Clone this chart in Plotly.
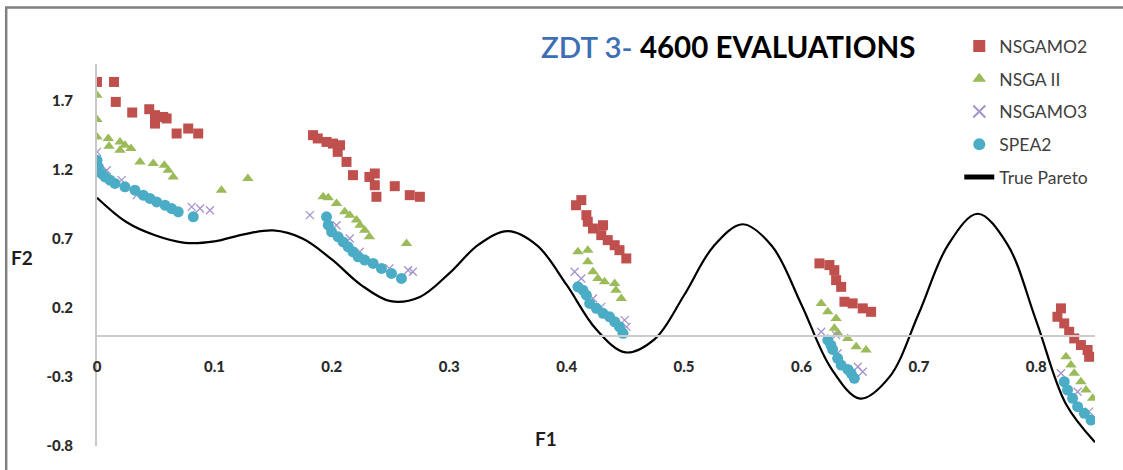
import plotly.graph_objects as go

# ---------------- data ----------------
nsgamo2_f1 = [0.0, 0.0145, 0.016, 0.030, 0.0445, 0.0494, 0.0564, 0.0593, 0.0494, 0.0678, 0.0777, 0.0862,
              0.184, 0.188, 0.1955, 0.201, 0.207, 0.205, 0.2125, 0.218, 0.232, 0.2366, 0.2366, 0.2536, 0.238, 0.2664, 0.275,
              0.4125, 0.408, 0.4168, 0.418, 0.4224, 0.431, 0.4295, 0.435, 0.4409, 0.445, 0.4508,
              0.6153, 0.6238, 0.628, 0.6295, 0.6338, 0.6366, 0.6436, 0.6522, 0.6593,
              0.821, 0.818, 0.8238, 0.828, 0.8323, 0.838, 0.8437, 0.845]
nsgamo2_f2 = [1.84, 1.84, 1.695, 1.618, 1.642, 1.599, 1.586, 1.575, 1.538, 1.466, 1.502, 1.466,
              1.454, 1.43, 1.405, 1.393, 1.381, 1.333, 1.26, 1.164, 1.151, 1.176, 1.091, 1.084, 1.007, 1.019, 1.007,
              0.983, 0.946, 0.874, 0.826, 0.777, 0.801, 0.729, 0.693, 0.656, 0.62, 0.56,
              0.524, 0.512, 0.475, 0.403, 0.354, 0.246, 0.234, 0.198, 0.173,
              0.198, 0.137, 0.089, 0.028, -0.02, -0.068, -0.104, -0.153]

nsga2_f1 = [0.0, 0.0, 0.0, 0.0096, 0.0102, 0.0196, 0.0238, 0.0289, 0.0196, 0.0366, 0.0479, 0.0573, 0.0607, 0.0649, 0.106, 0.1285,
            0.1926, 0.197, 0.204, 0.211, 0.2153, 0.221, 0.224, 0.228, 0.232, 0.2636,
            0.4096, 0.418, 0.418, 0.4224, 0.4266, 0.4323, 0.4409, 0.442, 0.4465,
            0.6168, 0.6224, 0.6295, 0.628, 0.631, 0.6394, 0.6466, 0.655,
            0.8253, 0.8295, 0.8323, 0.838, 0.8423, 0.848]
nsga2_f2 = [1.743, 1.567, 1.441, 1.43, 1.374, 1.405, 1.381, 1.357, 1.345, 1.26, 1.248, 1.236, 1.2, 1.151, 1.055, 1.14,
            1.007, 1.0, 0.959, 0.898, 0.874, 0.838, 0.801, 0.765, 0.717, 0.669,
            0.608, 0.62, 0.536, 0.463, 0.415, 0.391, 0.379, 0.33, 0.27,
            0.234, 0.173, 0.125, 0.053, 0.017, -0.02, -0.08, -0.104,
            -0.153, -0.213, -0.273, -0.334, -0.394, -0.454]

nsgamo3_f1 = [0.0, 0.0083, 0.021, 0.0338, 0.0806, 0.0877, 0.0962,
              0.1813, 0.204, 0.2153, 0.2238, 0.249, 0.265, 0.269,
              0.4068, 0.4125, 0.4224, 0.4295, 0.4494, 0.451,
              0.6168, 0.6295, 0.6308, 0.648, 0.6522,
              0.821, 0.8352, 0.845]
nsgamo3_f2 = [1.333, 1.2, 1.128, 1.019, 0.934, 0.922, 0.91,
              0.874, 0.801, 0.705, 0.608, 0.488, 0.475, 0.463,
              0.463, 0.415, 0.27, 0.209, 0.113, 0.064,
              0.028, 0.004, -0.128, -0.225, -0.262,
              -0.273, -0.407, -0.551]

spea2_f1 = [0.0, 0.0011, 0.004, 0.0068, 0.011, 0.0153, 0.0238, 0.0323, 0.0394, 0.0451, 0.0508, 0.0579, 0.0636, 0.0692, 0.082,
            0.1955, 0.197, 0.1998, 0.2054, 0.2096, 0.2139, 0.218, 0.2224, 0.228, 0.2352, 0.2423, 0.2508, 0.2593,
            0.4096, 0.4139, 0.4168, 0.4196, 0.4253, 0.431, 0.4366, 0.4409, 0.445, 0.448,
            0.6224, 0.625, 0.6265, 0.6308, 0.6338, 0.6395, 0.6423, 0.645,
            0.8238, 0.8266, 0.8309, 0.8352, 0.8409, 0.8466]
spea2_f2 = [1.272, 1.224, 1.176, 1.151, 1.128, 1.104, 1.079, 1.055, 1.019, 0.995, 0.97, 0.946, 0.922, 0.898, 0.862,
            0.862, 0.801, 0.753, 0.717, 0.68, 0.644, 0.608, 0.572, 0.548, 0.524, 0.488, 0.451, 0.415,
            0.354, 0.33, 0.294, 0.234, 0.198, 0.162, 0.137, 0.101, 0.064, 0.017,
            -0.032, -0.068, -0.1, -0.164, -0.213, -0.245, -0.273, -0.309,
            -0.334, -0.394, -0.454, -0.515, -0.563, -0.612]

pareto_f1 = [0.0, 0.025, 0.05, 0.075, 0.1, 0.125, 0.15, 0.175, 0.2, 0.225, 0.25, 0.275, 0.3, 0.325, 0.35,
             0.375, 0.4, 0.425, 0.45, 0.475, 0.5, 0.525, 0.55, 0.575, 0.6, 0.625, 0.65, 0.675, 0.7,
             0.725, 0.75, 0.775, 0.8, 0.825, 0.85]
pareto_f2 = [1.0, 0.824, 0.726, 0.673, 0.684, 0.735, 0.763, 0.705, 0.553, 0.367, 0.25, 0.281, 0.452, 0.660, 0.758,
             0.653, 0.368, 0.048, -0.121, -0.025, 0.293, 0.647, 0.808, 0.648, 0.225, -0.233, -0.456, -0.299, 0.163,
             0.661, 0.884, 0.668, 0.106, -0.492, -0.772]

x_ticks = [0, 0.1, 0.2, 0.3, 0.4, 0.5, 0.6, 0.7, 0.8]
x_tick_text = ["0", "0.1", "0.2", "0.3", "0.4", "0.5", "0.6", "0.7", "0.8"]
y_ticks = [-0.8, -0.3, 0.2, 0.7, 1.2, 1.7]
y_tick_text = ["-0.8", "-0.3", "0.2", "0.7", "1.2", "1.7"]

X_RANGE = [0, 0.85]
Y_RANGE = [-0.8, 1.97]

FONT = "Lato"

fig = go.Figure()
fig.add_trace(go.Scatter(x=nsgamo2_f1, y=nsgamo2_f2, mode="markers", name="NSGAMO2", legendgroup="a",
                         marker=dict(symbol="square", size=10, color="#C0504D")))
fig.add_trace(go.Scatter(x=nsga2_f1, y=nsga2_f2, mode="markers", name="NSGA II", legendgroup="b",
                         marker=dict(symbol="triangle-up", size=10, color="#9BBB59")))
fig.add_trace(go.Scatter(x=nsgamo3_f1, y=nsgamo3_f2, mode="markers", name="NSGAMO3", legendgroup="c",
                         marker=dict(symbol="x-thin", size=8, color="#A593CC",
                                     line=dict(width=1.3, color="#A593CC"))))
fig.add_trace(go.Scatter(x=spea2_f1, y=spea2_f2, mode="markers", name="SPEA2", legendgroup="d",
                         marker=dict(symbol="circle", size=11, color="#4BACC6")))
fig.add_trace(go.Scatter(x=pareto_f1, y=pareto_f2, mode="lines", name="True Pareto", legendgroup="e",
                         line=dict(color="black", width=2.2, shape="spline", smoothing=1)))

x_pos = (0 - Y_RANGE[0]) / (Y_RANGE[1] - Y_RANGE[0])
tick_font = dict(family=FONT, size=15, color="#2B2B2B", weight=900)

fig.update_layout(
    width=1123, height=470,
    margin=dict(l=97, r=28, t=64, b=24),
    paper_bgcolor="white", plot_bgcolor="white",
    font=dict(family=FONT, color="#333333"),
    title=dict(
        text="<span style='color:#3E6FB5;font-weight:600'>ZDT 3- </span><b>4600 EVALUATIONS</b>",
        xref="container", yref="container", x=541 / 1123, xanchor="left",
        y=1 - 48 / 470, yanchor="middle",
        font=dict(family=FONT, size=29.5, color="black"),
    ),
    showlegend=True,
    legend=dict(
        x=0.864, xanchor="left", y=1.094, yanchor="top",
        font=dict(family=FONT, size=17.5, color="#404040"),
        bgcolor="rgba(0,0,0,0)", tracegroupgap=7, itemsizing="constant",
    ),
    xaxis=dict(
        range=X_RANGE, anchor="free", position=x_pos,
        tickvals=x_ticks, ticktext=x_tick_text, ticks="",
        showgrid=False, zeroline=False,
        showline=True, linecolor="#CCCCCC", linewidth=2,
        tickfont=tick_font,
        ticklabelstandoff=17,
    ),
    yaxis=dict(
        range=Y_RANGE, tickvals=y_ticks, ticktext=y_tick_text, ticks="",
        showgrid=False, zeroline=False,
        showline=True, linecolor="#C8C8C8", linewidth=2,
        tickfont=tick_font,
        ticklabelstandoff=19,
    ),
    shapes=[dict(type="rect", xref="paper", yref="paper",
                 x0=-0.091, x1=1.1, y0=-0.2, y1=1.148,
                 line=dict(color="#808080", width=2.5), fillcolor="rgba(0,0,0,0)")],
    annotations=[
        dict(text="<b>F2</b>", xref="paper", yref="paper", x=-0.075, y=(446 - 257) / 382,
             xanchor="center", yanchor="middle", showarrow=False,
             font=dict(family=FONT, size=19, color="#1E1E1E")),
        dict(text="<b>F1</b>", xref="paper", yref="paper", x=(546 - 97) / 998, y=(446 - 438) / 382,
             xanchor="center", yanchor="middle", showarrow=False,
             font=dict(family=FONT, size=19, color="#1E1E1E")),
    ],
)

fig.write_html("out.html")
